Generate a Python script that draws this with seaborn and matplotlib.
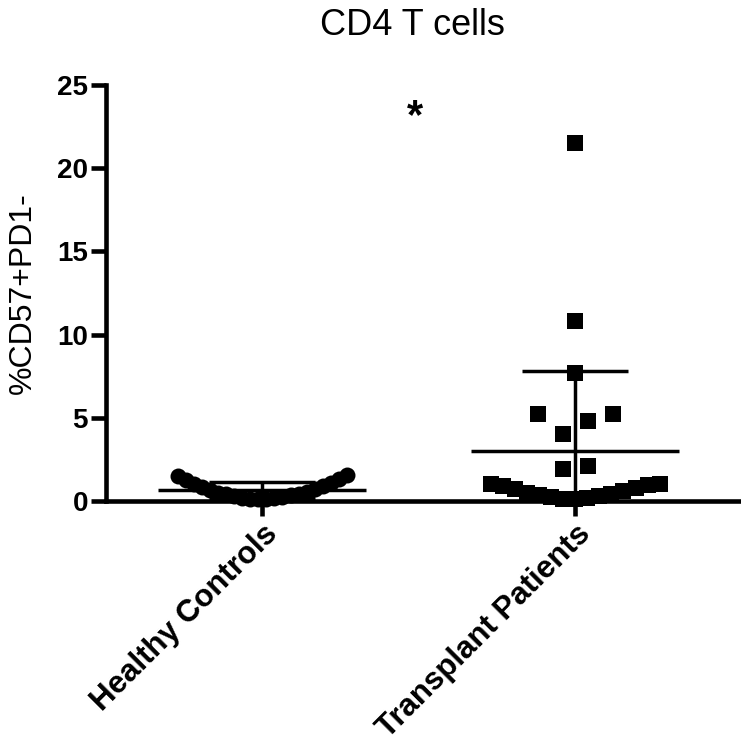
import matplotlib
matplotlib.use("Agg")
import matplotlib.pyplot as plt
import numpy as np
import pandas as pd
import seaborn as sns

sns.set_theme(style="ticks")
plt.rcParams["font.family"] = ["Liberation Sans", "DejaVu Sans"]
plt.rcParams.update({"text.color": "black", "axes.labelcolor": "black",
                     "axes.edgecolor": "black", "xtick.color": "black",
                     "ytick.color": "black"})

groups = ["Healthy Controls", "Transplant Patients"]

healthy = [1.55, 1.5, 1.3, 1.25, 1.1, 1.05, 0.9, 0.85, 0.7, 0.65, 0.55,
           0.5, 0.45, 0.4, 0.35, 0.3, 0.25, 0.2, 0.2, 0.15, 0.1, 0.1]
transplant = [21.5, 10.8, 7.7, 5.2, 5.2, 4.8, 4.0, 2.1, 1.9,
              1.05, 1.0, 0.95, 0.9, 0.8, 0.7, 0.6, 0.5, 0.4, 0.35,
              0.3, 0.25, 0.2, 0.15, 0.1]


def spread(values, band=1.5, step=0.08, max_width=0.54):
    # Prism-style column scatter: values within `band` share a row,
    # lowest value in the middle, others fanned out to both sides
    values = np.asarray(values, dtype=float)
    order = np.argsort(values, kind="stable")
    offsets = np.zeros(len(values))
    rows, row = [], []
    for i in order:
        if row and values[i] - values[row[0]] > band:
            rows.append(row)
            row = []
        row.append(i)
    rows.append(row)
    for row in rows:
        n = len(row)
        d = min(step, max_width / max(n - 1, 1))
        slots = sorted(np.arange(n) - (n - 1) / 2, key=lambda s: (abs(s), s))
        for i, s in zip(row, slots):
            offsets[i] = s * d
    return offsets


df = pd.DataFrame({
    "group": [groups[0]] * len(healthy) + [groups[1]] * len(transplant),
    "value": healthy + transplant,
})
df["pos"] = df["group"].map({g: i for i, g in enumerate(groups)})
df["x"] = df["pos"] + np.concatenate([spread(healthy), spread(transplant)])

fig = plt.figure(figsize=(7.41, 7.56), dpi=100)
ax = fig.add_axes([0.143, 0.3373, 0.857, 0.5503])

sns.scatterplot(data=df[df.group == groups[0]], x="x", y="value", marker="o",
                color="black", s=11.5 ** 2, linewidth=0, clip_on=False,
                zorder=3, ax=ax)
sns.scatterplot(data=df[df.group == groups[1]], x="x", y="value", marker="s",
                color="black", s=12.2 ** 2, linewidth=0, clip_on=False,
                zorder=3, ax=ax)

means = df.groupby("group")["value"].mean().reindex(groups).values
sds = df.groupby("group")["value"].std().reindex(groups).values
ax.errorbar(np.arange(len(groups)), means, yerr=sds, fmt="_", color="black",
            markersize=150, mew=2.5, elinewidth=2.5, capsize=38.5, capthick=2.5,
            zorder=4)

ax.text(0.487, 23.1, "*", ha="center", va="center", fontsize=30, fontweight="bold")

ax.set_xlim(-0.5, 1.53)
ax.set_ylim(0, 25)
ax.set_yticks([0, 5, 10, 15, 20, 25])
ax.set_xticks(range(len(groups)), groups)
ax.set_xlabel("")
ax.set_ylabel("%CD57+PD1-", fontsize=23, labelpad=14)
ax.set_title("CD4 T cells", fontsize=26, pad=36, x=0.483)
sns.despine(ax=ax)
for side in ["left", "bottom"]:
    ax.spines[side].set_linewidth(3.3)
ax.tick_params(axis="both", width=3.3, length=11, pad=2)
ax.tick_params(axis="y", labelsize=20)
ax.tick_params(axis="x", labelsize=22.5)
for lab in ax.get_yticklabels():
    lab.set_fontweight("bold")
for lab in ax.get_xticklabels():
    lab.set_fontweight("bold")
    lab.set_rotation(45)
    lab.set_ha("right")
    lab.set_rotation_mode("anchor")

fig.savefig("out.png", dpi=100)
